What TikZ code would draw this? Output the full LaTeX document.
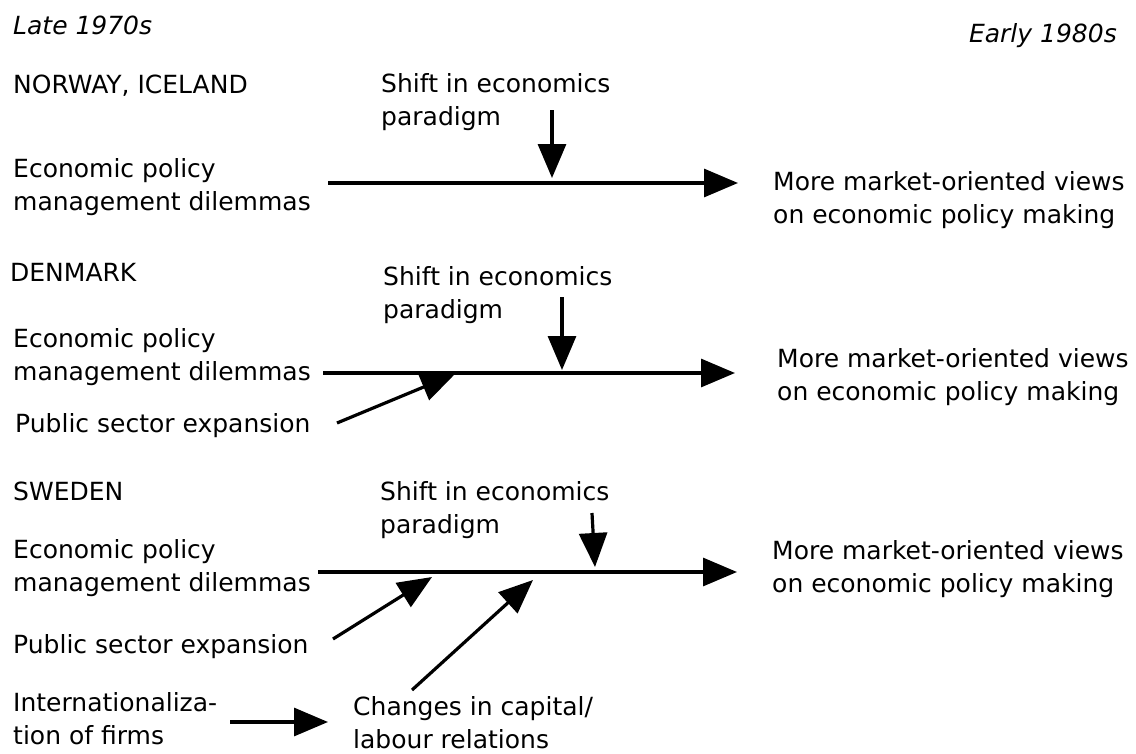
\documentclass[tikz,border=0pt]{standalone}
\usepackage{fontspec}
\setmainfont{DejaVu Sans}
\usetikzlibrary{arrows.meta}
\newcommand{\txtfont}{\fontsize{25}{33}\selectfont}

\begin{document}
\begin{tikzpicture}[x = 1pt, y = -1pt,
    lbl/.style = {anchor = base west, inner sep = 0pt, align = left, font = \txtfont},
    flow/.style = {line width = 3.2pt, -{Triangle[length = 34pt, width = 28pt]}}]
    \useasboundingbox (0,0) rectangle (1136,753);
    % periods
    \node[lbl, font = \txtfont\itshape] (late) at (13,34) {Late 1970s};
    \node[lbl, anchor = base east, font = \txtfont\itshape] (early) at (1117,42) {Early 1980s};

    % Norway, Iceland (base = last line)
    \node[lbl] (nCountry) at (13,93) {NORWAY, ICELAND};
    \node[lbl] (nShift) at (381,125) {Shift in economics\\paradigm};
    \node[lbl] (nDilemma) at (13,210) {Economic policy\\management dilemmas};
    \node[lbl] (nMarket) at (773,223) {More market-oriented views\\on economic policy making};
    \coordinate (nStart) at (328,183);
    \coordinate (nEnd) at (738,183);
    \coordinate (nTop) at (552,110);
    \coordinate (nHit) at (552,178);
    \draw[flow] (nStart) -- (nEnd);
    \draw[flow] (nTop) -- (nHit);

    % Denmark
    \node[lbl] (dCountry) at (10,281) {DENMARK};
    \node[lbl] (dShift) at (383,318) {Shift in economics\\paradigm};
    \node[lbl] (dDilemma) at (13,380) {Economic policy\\management dilemmas};
    \node[lbl] (dPublic) at (15,432) {Public sector expansion};
    \node[lbl] (dMarket) at (777,400) {More market-oriented views\\on economic policy making};
    \coordinate (dStart) at (323,373);
    \coordinate (dEnd) at (735,373);
    \coordinate (dTop) at (562,297);
    \coordinate (dHit) at (562,370);
    \coordinate (dPubFrom) at (337,423);
    \coordinate (dPubHit) at (455,374);
    \draw[flow] (dStart) -- (dEnd);
    \draw[flow] (dTop) -- (dHit);
    \draw[flow] (dPubFrom) -- (dPubHit);

    % Sweden
    \node[lbl] (sCountry) at (13,500) {SWEDEN};
    \node[lbl] (sShift) at (380,533) {Shift in economics\\paradigm};
    \node[lbl] (sDilemma) at (13,591) {Economic policy\\management dilemmas};
    \node[lbl] (sPublic) at (13,653) {Public sector expansion};
    \node[lbl] (sFirms) at (13,744) {Internationaliza-\\tion of firms};
    \node[lbl] (sLabour) at (353,748) {Changes in capital/\\labour relations};
    \node[lbl] (sMarket) at (772,592) {More market-oriented views\\on economic policy making};
    \coordinate (sStart) at (318,572);
    \coordinate (sEnd) at (737,572);
    \coordinate (sTop) at (592,513);
    \coordinate (sHit) at (595,567);
    \coordinate (sPubFrom) at (333,639);
    \coordinate (sPubHit) at (432,577);
    \coordinate (sLabFrom) at (412,690);
    \coordinate (sLabHit) at (533,580);
    \coordinate (sFirmFrom) at (230,722);
    \coordinate (sFirmHit) at (328,722);
    \draw[flow] (sStart) -- (sEnd);
    \draw[flow] (sTop) -- (sHit);
    \draw[flow] (sPubFrom) -- (sPubHit);
    \draw[flow] (sLabFrom) -- (sLabHit);
    \draw[flow] (sFirmFrom) -- (sFirmHit);
\end{tikzpicture}
\end{document}
